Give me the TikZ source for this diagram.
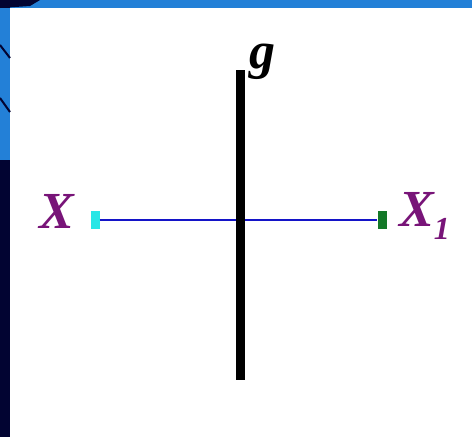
\documentclass[tikz,border=0pt]{standalone}
\usepackage{fontspec}
\setmainfont{Liberation Serif}
\usepackage{xcolor}
\usepackage{tikz}
\usetikzlibrary{positioning}
\definecolor{slideblue}{RGB}{35,128,215}
\definecolor{slidenavy}{RGB}{2,4,50}
\definecolor{rodblue}{RGB}{20,20,200}
\definecolor{labelpurple}{RGB}{120,20,120}
\definecolor{endcyan}{RGB}{40,230,230}
\definecolor{endgreen}{RGB}{20,120,40}

\begin{document}
\begin{tikzpicture}[
    x=1pt, y=-1pt,
    endpt/.style={draw=none, inner sep=0pt, minimum width=9pt, minimum height=18pt},
    lbl/.style={inner sep=0pt, font=\fontsize{52}{54}\selectfont\bfseries\itshape},
    rod/.style={line width=9pt}
  ]
    \useasboundingbox (0,0) rectangle (472,437);
    % slide frame
    \fill[white] (0,0) rectangle (472,437);
    \fill[slideblue] (0,0) rectangle (472,8);
    \fill[slidenavy] (0,0) rectangle (10,437);
    \fill[slideblue] (0,8) rectangle (10,160);
    \fill[slidenavy] (0,0) -- (40,0) -- (30,6) -- (0,8) -- cycle;
    \draw[slidenavy, line width=2pt] (0,45) -- (10,58);
    \draw[slidenavy, line width=2pt] (0,98) -- (10,112);

    \coordinate (gtop) at (240,70);
    \coordinate (gbot) at (240,380);
    \node[endpt, fill=endcyan] (xl) at (95,220) {};
    \node[endpt, fill=endgreen] (xr) at (382,220) {};

    \draw[rodblue, line width=2pt] (xl) -- (xr);
    \draw[rod] (gtop) -- (gbot);

    \node[lbl, anchor=south west] (g) at (249,80) {g};
    \node[lbl, text=labelpurple] (x) at (57,211) {X};
    \node[lbl, text=labelpurple, anchor=west] (x1) at (399,216) {X\textsubscript{\fontsize{32}{34}\selectfont 1}};
\end{tikzpicture}
\end{document}
